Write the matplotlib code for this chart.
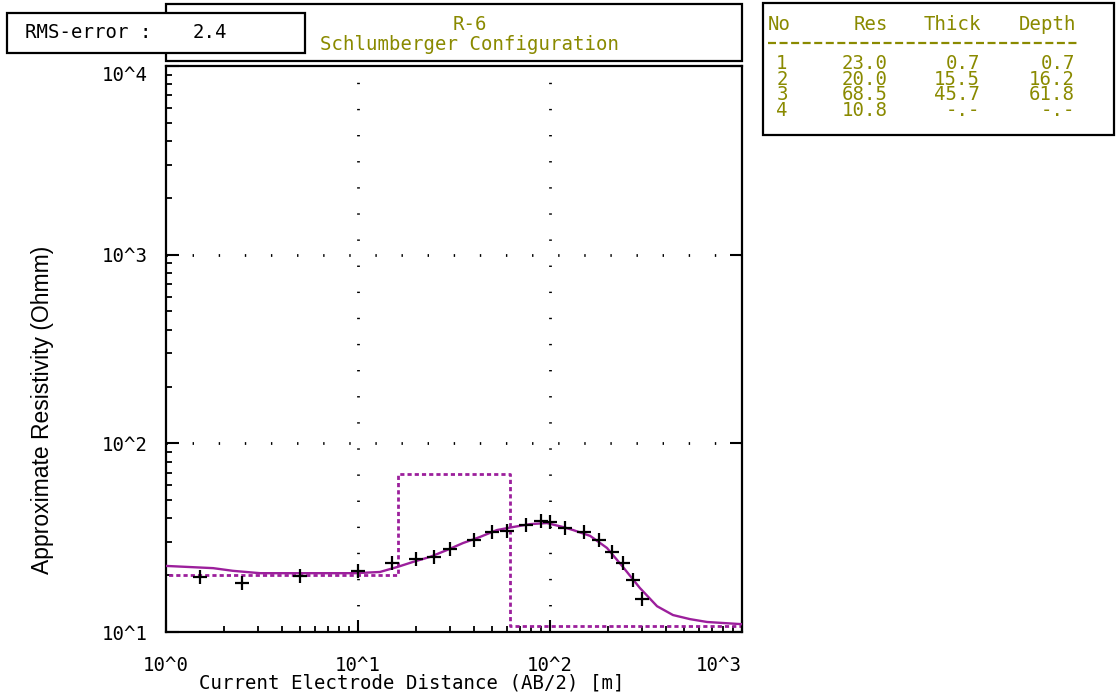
import matplotlib
matplotlib.use("Agg")
import matplotlib.pyplot as plt
from matplotlib.patches import Rectangle
from matplotlib.lines import Line2D
from matplotlib.ticker import LogLocator, NullFormatter

# ---------------- data ----------------
ab2 = [1.5, 2.5, 5, 10, 15, 20, 25, 30, 40, 50, 60, 75, 90, 100, 120, 150, 180, 210, 240, 270, 300]
rho_obs = [19.6, 18.2, 19.8, 21.1, 23.2, 24.4, 24.9, 27.5, 30.7, 33.9, 34.3, 36.9, 38.7, 38.3,
           35.6, 33.9, 30.7, 26.5, 23.2, 18.9, 15.0]

curve_x = [1.0, 1.76, 2.23, 3.09, 4.99, 9.64, 13.0, 16.0, 19.3, 23.7, 29.1, 35.2, 43.2, 52.9,
           64.1, 78.7, 96.4, 117, 132, 162, 198, 240, 294, 361, 437, 536, 658, 1000]
curve_y = [22.4, 21.8, 21.1, 20.5, 20.5, 20.5, 20.8, 22.1, 23.5, 25.0, 27.2, 29.6, 31.9, 34.7,
           36.0, 37.3, 37.8, 36.0, 34.7, 32.3, 27.9, 22.1, 17.1, 13.7, 12.3, 11.7, 11.3, 11.0]

layer_no = ["1", "2", "3", "4"]
layer_res = [23.0, 20.0, 68.5, 10.8]
layer_thick = ["0.7", "15.5", "45.7", "-.-"]
layer_depth = [0.7, 16.2, 61.8]
layer_depth_txt = ["0.7", "16.2", "61.8", "-.-"]

rms_error = "2.4"
title_line1 = "R-6"
title_line2 = "Schlumberger Configuration"
x_ticks = [1, 10, 100, 1000]
x_ticklabels = ["10^0", "10^1", "10^2", "10^3"]
y_ticks = [10, 100, 1000, 10000]
y_ticklabels = ["10^1", "10^2", "10^3", "10^4"]

# ---------------- style ----------------
W, H = 1119, 698
PURPLE = "#9c1f9c"
OLIVE = "#8a8a00"
MONO = "DejaVu Sans Mono"
FS = 13.7

def fx(px):
    return px / W

def fy(py):
    return 1 - py / H

fig = plt.figure(figsize=(W / 100, H / 100), dpi=100)
ax_l, ax_r, ax_t, ax_b = 166, 742, 66, 632
ax = fig.add_axes([fx(ax_l), fy(ax_b), (ax_r - ax_l) / W, (ax_b - ax_t) / H])
ax.set_xscale("log")
ax.set_yscale("log")
ax.set_xlim(1, 1000)
ax.set_ylim(10, 10000)

# grid of dots at decades
grid_kw = dict(color="black", linewidth=2.0, dashes=(0.5, 8.9))
for gx in [10, 100]:
    ax.plot([gx, gx], [10, 10000], **grid_kw, zorder=1)
for gy in [100, 1000]:
    ax.plot([1, 1000], [gy, gy], **grid_kw, zorder=1)

# model step line
step_x = [0.1] + layer_depth + [1e5]
step_y = layer_res + [layer_res[-1]]
ax.step(step_x, step_y, where="post", color=PURPLE, linewidth=2.0, dashes=(1.5, 1.1), zorder=2)

# computed curve
ax.plot(curve_x, curve_y, color=PURPLE, linewidth=1.7, zorder=3)

# observed data
ax.plot(ab2, rho_obs, linestyle="none", marker="+", markersize=10.5, markeredgewidth=1.6,
        color="black", zorder=4)

# ticks
ax.set_xticks(x_ticks, labels=x_ticklabels)
ax.set_yticks(y_ticks, labels=y_ticklabels)
ax.xaxis.set_minor_locator(LogLocator(base=10, subs=range(2, 10)))
ax.yaxis.set_minor_locator(LogLocator(base=10, subs=range(2, 10)))
ax.xaxis.set_minor_formatter(NullFormatter())
ax.yaxis.set_minor_formatter(NullFormatter())
ax.tick_params(which="major", direction="in", length=9, width=1.5, top=False, right=True,
               bottom=True, left=True)
ax.tick_params(which="minor", direction="in", length=4, width=1.3, top=False, right=False,
               bottom=True, left=True)
ax.tick_params(axis="x", which="major", pad=17)
ax.tick_params(axis="y", which="major", pad=13)
for lab in ax.get_xticklabels() + ax.get_yticklabels():
    lab.set_fontfamily(MONO)
    lab.set_fontsize(FS)
xl = ax.get_xticklabels()
xl[-1].set_horizontalalignment("right")
yl = ax.get_yticklabels()
yl[-1].set_verticalalignment("top")
for s in ax.spines.values():
    s.set_linewidth(1.6)

# axis labels
fig.text(fx(412), fy(683), "Current Electrode Distance (AB/2) [m]", family=MONO, fontsize=FS,
         ha="center", va="center")
fig.text(fx(43), fy(410), "Approximate Resistivity (Ohmm)", family="Liberation Sans",
         fontsize=16.5, rotation=90, ha="center", va="center")

# boxes
def box(x0, y0, x1, y1, z=5):
    r = Rectangle((fx(x0), fy(y1)), (x1 - x0) / W, (y1 - y0) / H, transform=fig.transFigure,
                  facecolor="white", edgecolor="black", linewidth=1.6, zorder=z)
    fig.add_artist(r)

box(166, 4, 742, 61, z=5)
fig.text(fx(470), fy(25), title_line1, family=MONO, fontsize=FS, color=OLIVE, ha="center",
         va="center", zorder=6)
fig.text(fx(470), fy(44), title_line2, family=MONO, fontsize=FS, color=OLIVE, ha="center",
         va="center", zorder=6)

box(7, 13, 305, 53, z=7)
fig.text(fx(25), fy(33), "RMS-error :", family=MONO, fontsize=FS, color="black", ha="left",
         va="center", zorder=8)
fig.text(fx(193), fy(33), rms_error, family=MONO, fontsize=FS, color="black", ha="left",
         va="center", zorder=8)

box(763, 3, 1114, 135, z=5)
tk = dict(family=MONO, fontsize=FS, color=OLIVE, va="center", zorder=6)
fig.text(fx(768), fy(25), "No", ha="left", **tk)
fig.text(fx(888), fy(25), "Res", ha="right", **tk)
fig.text(fx(981), fy(25), "Thick", ha="right", **tk)
fig.text(fx(1076), fy(25), "Depth", ha="right", **tk)
fig.add_artist(Line2D([fx(768), fx(1078)], [fy(43), fy(43)], transform=fig.transFigure,
                      color=OLIVE, linewidth=1.6, dashes=(3.6, 1.6), zorder=6))

# table body: one multi-line text per column (rows ~16 px apart)
rows_center = 87
LS = 0.76
fig.text(fx(782), fy(rows_center), "\n".join(layer_no), ha="center", multialignment="center",
         linespacing=LS, **tk)
fig.text(fx(888), fy(rows_center), "\n".join(f"{r:.1f}" for r in layer_res), ha="right",
         multialignment="right", linespacing=LS, **tk)
fig.text(fx(980), fy(rows_center), "\n".join(layer_thick), ha="right", multialignment="right",
         linespacing=LS, **tk)
fig.text(fx(1075), fy(rows_center), "\n".join(layer_depth_txt), ha="right",
         multialignment="right", linespacing=LS, **tk)

fig.savefig("out.png", dpi=100, facecolor="white")
